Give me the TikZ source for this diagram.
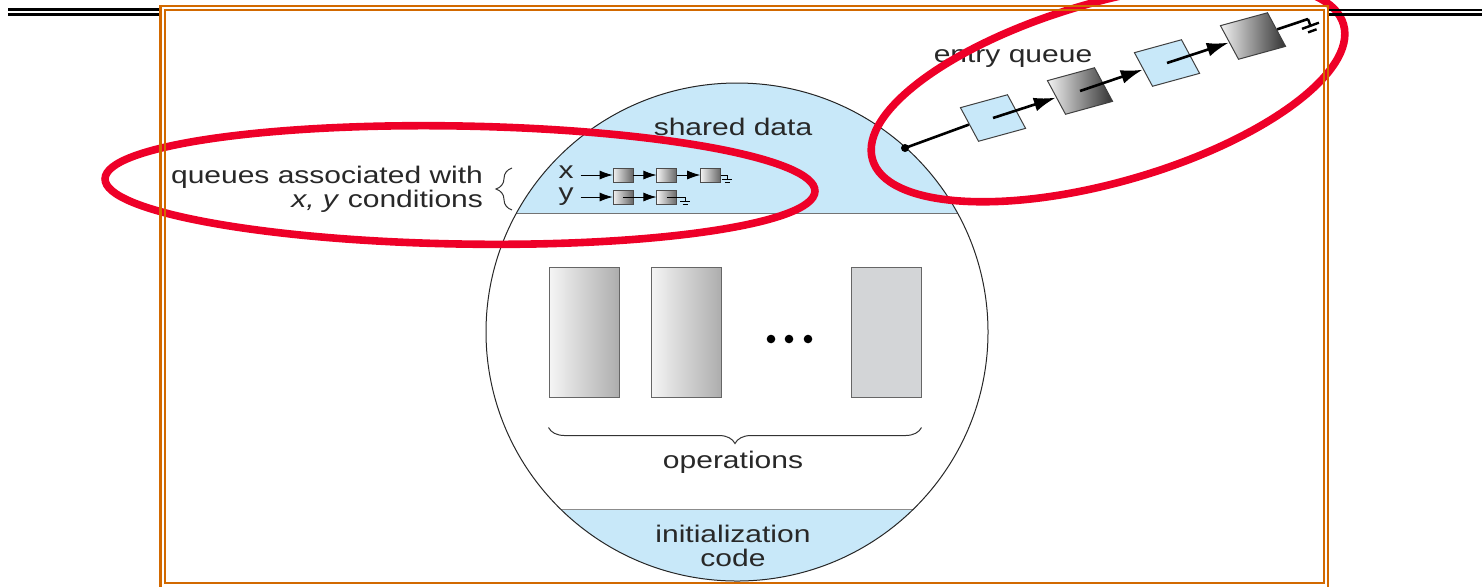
\documentclass[tikz,border=0pt]{standalone}
\usepackage{fontspec}
\setmainfont{Liberation Sans}[FakeStretch=1.25]
\usetikzlibrary{positioning,arrows.meta,calc,decorations.pathreplacing}
\definecolor{shblue}{RGB}{200,232,249}
\definecolor{penred}{RGB}{238,0,40}
\definecolor{frameorange}{RGB}{210,105,0}
\definecolor{opgray}{RGB}{211,213,215}
\definecolor{inkgray}{RGB}{40,40,40}

\tikzset{
  qbox/.style={draw=black!70, line width=0.4pt, inner sep=0pt,
    minimum width=10pt, minimum height=7pt, left color=black!5, right color=black!60},
  ebox/.style={draw=black!75, line width=0.5pt, inner sep=0pt,
    minimum width=18pt, minimum height=18pt, xscale=1.4, rotate=21},
  opbox/.style={draw=black!60, line width=0.5pt, inner sep=0pt,
    minimum width=35pt, minimum height=65pt},
  qarrow/.style={-{Latex[length=6.5pt,width=4.5pt]}, line width=0.4pt},
  earrow/.style={-{Latex[length=11pt,width=7pt]}, line width=1.3pt},
  nilgnd/.pic={
    \draw (0,0) -- (0,4);
    \draw (-5,4) -- (5,4);
    \draw (-2.5,7) -- (2.5,7);
  },
  redring/.style={draw=penred, line width=3.8pt},
  frameline/.style={draw=frameorange, line width=1.4pt},
}

\begin{document}
\begin{tikzpicture}[x=0.5pt, y=-0.5pt, font=\fontsize{12}{12}\selectfont, text=inkgray]
  \useasboundingbox (0,0) rectangle (1482,586);

  % monitor body
  \begin{scope}
    \clip (737,332) ellipse [x radius=251, y radius=249];
    \fill[shblue] (480,70) rectangle (1000,213);
    \fill[shblue] (480,509) rectangle (1000,600);
    \draw[black!55] (480,213) -- (1000,213);
    \draw[black!45] (480,509) -- (1000,509);
  \end{scope}
  \draw[black!85, line width=0.5pt] (737,332) ellipse [x radius=251, y radius=249];

  \node (shared) at (733,127) {shared data};
  \node[align=center] (init) at (733,546) {initialization\\code};

  % operations
  \node[opbox, left color=black!4, right color=black!32] (op1) at (584,332) {};
  \node[opbox, left color=black!4, right color=black!32, right=15.5pt of op1] (op2) {};
  \node[opbox, fill=opgray] (opn) at (886,332) {};
  \foreach \dx in {771,789,808}
    \fill[black] (\dx,339) circle [radius=4.3];
  \draw[decorate, decoration={brace, amplitude=8pt}, line width=0.5pt, black!80]
    ([yshift=-15pt]opn.south east) -- ([yshift=-15pt]op1.south west);
  \node (ops) at (733,462) {operations};

  % condition queues
  \node[anchor=east, align=right] (qlabel) at (490,189) {queues associated with\\\textit{x, y} conditions};
  \draw[decorate, decoration={brace, amplitude=8pt}, line width=0.5pt, black!80]
    ($(qlabel.east)+(22,21)$) -- ($(qlabel.east)+(22,-21)$);
  \node (xlbl) at (566,172) {x};
  \node (ylbl) at (566,197) {y};
  \node[qbox] (xq1) at (623,175) {};
  \node[qbox, right=11.5pt of xq1] (xq2) {};
  \node[qbox, right=11.5pt of xq2] (xq3) {};
  \node[qbox] (yq1) at (623,197) {};
  \node[qbox, right=11.5pt of yq1] (yq2) {};
  \coordinate (xnil) at (727,175);
  \coordinate (ynil) at (685,197);
  \draw[qarrow] (xlbl.east |- xq1.west) -- (xq1.west);
  \draw[qarrow] (xq1.east) -- (xq2.west);
  \draw[qarrow] (xq2.east) -- (xq3.west);
  \draw[line width=0.4pt] (xq3.east) -- (xnil);
  \pic[line width=0.4pt] at (xnil) {nilgnd};
  \draw[qarrow] (ylbl.east |- yq1.west) -- (yq1.west);
  \draw[qarrow] (yq1.center) -- (yq2.west);
  \draw[line width=0.4pt] (yq2.center) -- (ynil);
  \pic[line width=0.4pt] at (ynil) {nilgnd};

  % entry queue
  \node (entrylbl) at (1013,57) {entry queue};
  \node[circle, fill=black, inner sep=0pt, minimum size=4pt] (edot) at (905,148) {};
  \node[ebox, fill=shblue] (e1) at (993,118) {};
  \node[ebox, left color=black!5, right color=black!80] (e2) at (1080,91) {};
  \node[ebox, fill=shblue] (e3) at (1167,63) {};
  \node[ebox, left color=black!5, right color=black!80] (e4) at (1253,36) {};
  \coordinate (enil) at (1308,19);
  \draw[line width=1.3pt] (edot.center) -- (e1.west);
  \draw[earrow] (e1.center) -- (e2.west);
  \draw[earrow] (e2.center) -- (e3.west);
  \draw[earrow] (e3.center) -- (e4.west);
  \draw[line width=1.3pt] (e4.east) -- (enil);
  \pic[rotate=20, scale=1.8, line width=1.2pt] at (enil) {nilgnd};

  % pen marks
  \draw[redring, rotate around={-1:(460,185)}] (460,185) ellipse [x radius=355, y radius=59];
  \draw[redring, rotate around={16:(1108,92)}] (1108,92) ellipse [x radius=245, y radius=90];

  % slide frame
  \draw[line width=1.3pt] (8,9.7) -- (160,9.7) (8,14.7) -- (160,14.7);
  \draw[line width=1.3pt] (1328,10) -- (1482,10) (1328,14.7) -- (1482,14.7);
  \draw[frameline] (160.5,6) rectangle (1328,600);
  \draw[frameline] (165,10) rectangle (1324,583);
\end{tikzpicture}
\end{document}
